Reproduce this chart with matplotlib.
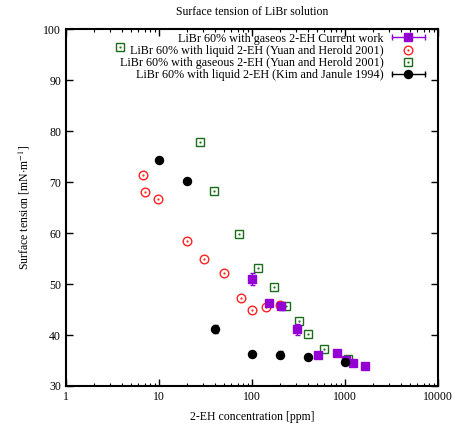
import numpy as np
import matplotlib
matplotlib.use("Agg")
import matplotlib.pyplot as plt
from matplotlib.legend_handler import HandlerBase
from matplotlib.lines import Line2D
from matplotlib.ticker import LogLocator, NullFormatter, FixedLocator

plt.rcParams['font.family'] = ['Liberation Serif', 'DejaVu Serif']
plt.rcParams['mathtext.fontset'] = 'stix'

# Current work (gaseous 2-EH)
cw_x = [101, 151, 203, 303, 508, 818, 1018, 1220, 1640]
cw_y = [51.0, 46.2, 45.6, 41.1, 36.1, 36.5, 35.1, 34.6, 34.0]
cw_err = [1.1, 0.5, 0.6, 1.1, 0.3, 0.3, 0.3, 0.3, 0.3]

# Yuan and Herold 2001, liquid
yl_x = [6.7, 7.0, 9.7, 20.2, 30.3, 50, 76, 100, 141, 200]
yl_y = [71.4, 68.0, 66.7, 58.4, 55.0, 52.2, 47.2, 45.0, 45.4, 45.9]

# Yuan and Herold 2001, gaseous
yg_x = [3.8, 27.6, 39.4, 73, 117, 171, 232, 324, 403, 594, 1073]
yg_y = [96.5, 77.8, 68.2, 59.9, 53.1, 49.4, 45.7, 42.7, 40.1, 37.3, 35.3]

# Kim and Janule 1994, liquid
kj_x = [10, 20, 40, 100, 200, 400, 1000]
kj_y = [74.3, 70.1, 41.1, 36.2, 36.1, 35.6, 34.8]
kj_err = [0.3, 0.3, 0.8, 0.3, 0.7, 0.3, 0.3]

labels = ["LiBr 60% with gaseos 2-EH Current work",
          "LiBr 60% with liquid 2-EH (Yuan and Herold 2001)",
          "LiBr 60% with gaseous 2-EH (Yuan and Herold 2001)",
          "LiBr 60% with liquid 2-EH (Kim and Janule 1994)"]

purple = '#9400D3'
red = '#FF2020'
green = '#1a6e1a'


class HandlerMarker(HandlerBase):
    """Legend handle: optional horizontal error bar with caps, marker, optional centre dot."""
    def __init__(self, marker, color, ms, filled=True, bar=False, dot=False):
        super().__init__()
        self.marker, self.color, self.ms = marker, color, ms
        self.filled, self.bar, self.dot = filled, bar, dot

    def create_artists(self, legend, orig_handle, xdescent, ydescent, width,
                       height, fontsize, trans):
        y = height / 2 - ydescent
        x0, x1 = -xdescent, width - xdescent
        xc = (x0 + x1) / 2
        arts = []
        if self.bar:
            arts.append(Line2D([x0, x1], [y, y], color=self.color, lw=1))
            arts.append(Line2D([x0, x1], [y, y], ls='none', marker='|',
                               color=self.color, ms=4, mew=1))
        if self.filled:
            arts.append(Line2D([xc], [y], ls='none', marker=self.marker,
                               color=self.color, ms=self.ms))
        else:
            arts.append(Line2D([xc], [y], ls='none', marker=self.marker,
                               mfc='none', mec=self.color, ms=self.ms, mew=1))
        if self.dot:
            arts.append(Line2D([xc], [y], ls='none', marker='.',
                               color=self.color, ms=1.2))
        for a in arts:
            a.set_transform(trans)
        return arts


fig = plt.figure(figsize=(4.56, 4.28), dpi=100)
ax = fig.add_axes([66/456, 1-386/428, (438-66)/456, (386-29)/428])

ax.errorbar(cw_x, cw_y, yerr=cw_err, fmt='s', color=purple, ms=5.5,
            elinewidth=1, capsize=1.8, zorder=4)
ax.plot(yl_x, yl_y, 'o', mfc='none', mec=red, ms=6.2, mew=1, zorder=3)
ax.plot(yl_x, yl_y, '.', color=red, ms=1.2, zorder=3)
ax.plot(yg_x, yg_y, 's', mfc='none', mec=green, ms=5.8, mew=1, zorder=3)
ax.plot(yg_x, yg_y, '.', color=green, ms=1.2, zorder=3)
ax.errorbar(kj_x, kj_y, yerr=kj_err, fmt='o', color='black', ms=5.8,
            elinewidth=1, capsize=1.8, zorder=5)

proxies = [object(), object(), object(), object()]
hmap = {
    proxies[0]: HandlerMarker('s', purple, 5.5, filled=True, bar=True),
    proxies[1]: HandlerMarker('o', red, 6.2, filled=False, dot=True),
    proxies[2]: HandlerMarker('s', green, 5.8, filled=False, dot=True),
    proxies[3]: HandlerMarker('o', 'black', 5.8, filled=True, bar=True),
}
leg = ax.legend(proxies, labels, handler_map=hmap,
                loc='upper right', bbox_to_anchor=(0.965, 0.99),
                markerfirst=False, frameon=False, fontsize=8.7,
                handlelength=2.75, handletextpad=0.66, labelspacing=0.02,
                borderaxespad=0, borderpad=0)

ax.set_xscale('log')
ax.set_xlim(1, 10000)
ax.set_ylim(30, 100)
ax.yaxis.set_major_locator(FixedLocator([30, 40, 50, 60, 70, 80, 90, 100]))
ax.xaxis.set_minor_locator(LogLocator(base=10, subs=np.arange(2, 10), numticks=10))
ax.xaxis.set_minor_formatter(NullFormatter())
ax.set_xticks([1, 10, 100, 1000, 10000])
ax.set_xticklabels(['1', '10', '100', '1000', '10000'])

ax.tick_params(which='both', direction='in', top=True, right=True, labelsize=8.5)
ax.tick_params(which='major', length=5, width=1)
ax.tick_params(which='minor', length=2.5, width=0.8)
for s in ax.spines.values():
    s.set_linewidth(1.5)

ax.set_xlabel('2-EH concentration [ppm]', fontsize=8.5, labelpad=6)
ax.set_ylabel(r'Surface tension [mN$\cdot$m$^{-1}$]', fontsize=8.5, labelpad=8)
ax.set_title('Surface tension of LiBr solution', fontsize=8.5, pad=10)

fig.savefig('out.png', dpi=100)
